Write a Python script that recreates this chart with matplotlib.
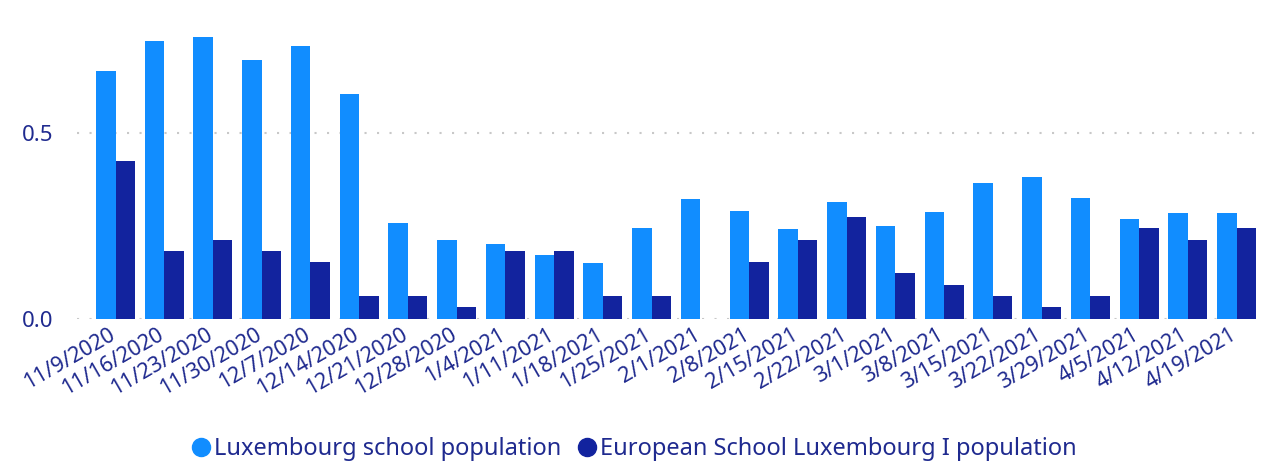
import matplotlib
matplotlib.use("Agg")
import matplotlib.pyplot as plt
from matplotlib.lines import Line2D
from matplotlib.transforms import ScaledTranslation
import numpy as np

plt.rcParams['font.family'] = ['Noto Sans', 'DejaVu Sans']

weeks = ["11/9/2020", "11/16/2020", "11/23/2020", "11/30/2020", "12/7/2020",
         "12/14/2020", "12/21/2020", "12/28/2020", "1/4/2021", "1/11/2021",
         "1/18/2021", "1/25/2021", "2/1/2021", "2/8/2021", "2/15/2021",
         "2/22/2021", "3/1/2021", "3/8/2021", "3/15/2021", "3/22/2021",
         "3/29/2021", "4/5/2021", "4/12/2021", "4/19/2021"]
lux_school = [0.667, 0.747, 0.758, 0.696, 0.734, 0.605, 0.258, 0.212, 0.202, 0.172,
              0.150, 0.245, 0.323, 0.290, 0.242, 0.315, 0.250, 0.288, 0.366, 0.382,
              0.325, 0.269, 0.285, 0.285]
euro_school = [0.425, 0.183, 0.212, 0.183, 0.153, 0.062, 0.062, 0.032, 0.183, 0.183,
               0.062, 0.062, 0.0, 0.153, 0.212, 0.274, 0.124, 0.091, 0.062, 0.032,
               0.062, 0.245, 0.212, 0.245]
series_names = ["Luxembourg school population", "European School Luxembourg I population"]
y_ticks = [0.0, 0.5]
y_tick_labels = ["0.0", "0.5"]

c_light = "#118DFF"
c_dark = "#12239E"
c_text = "#1F2A8F"

W, H = 1266, 466
fig = plt.figure(figsize=(W / 100, H / 100), dpi=100)
ax = fig.add_axes([77 / W, 1 - 319 / H, (1258 - 77) / W, (319 - 21.4) / H])

x = np.arange(len(weeks))
bw = 0.4
ax.bar(x - bw / 2, lux_school, width=bw, color=c_light, zorder=3, label=series_names[0])
ax.bar(x + bw / 2, euro_school, width=bw, color=c_dark, zorder=3, label=series_names[1])

ax.set_xlim(-0.79, len(weeks) - 1 + 0.44)
ax.set_ylim(0, 0.8)

for s in ax.spines.values():
    s.set_visible(False)

ax.set_yticks(y_ticks)
ax.set_yticklabels(y_tick_labels)
ax.yaxis.grid(True, color="#C8C8C8", linestyle=(0, (1, 5)), linewidth=1.5, zorder=0)
ax.set_axisbelow(True)
ax.tick_params(axis="y", length=0, pad=17, labelsize=16, labelcolor=c_text)

ax.set_xticks(x)
ax.set_xticklabels(weeks, rotation=30, ha="right", va="top", rotation_mode="anchor")
ax.tick_params(axis="x", length=0, pad=4, labelsize=15.5, labelcolor=c_text)
offset = ScaledTranslation(-7 / 100, 0, fig.dpi_scale_trans)
for lbl in ax.get_xticklabels():
    lbl.set_transform(lbl.get_transform() + offset)

handles = [Line2D([0], [0], marker="o", linestyle="none", markersize=13,
                  markerfacecolor=c, markeredgecolor=c) for c in (c_light, c_dark)]
leg = fig.legend(handles, series_names, loc="center", bbox_to_anchor=(0.5, 1 - 449 / H),
                 ncol=2, frameon=False, fontsize=17, handletextpad=0.05,
                 columnspacing=0.6, handlelength=1.0, borderpad=0)
for t in leg.get_texts():
    t.set_color(c_text)

fig.savefig("out.png", dpi=100)
